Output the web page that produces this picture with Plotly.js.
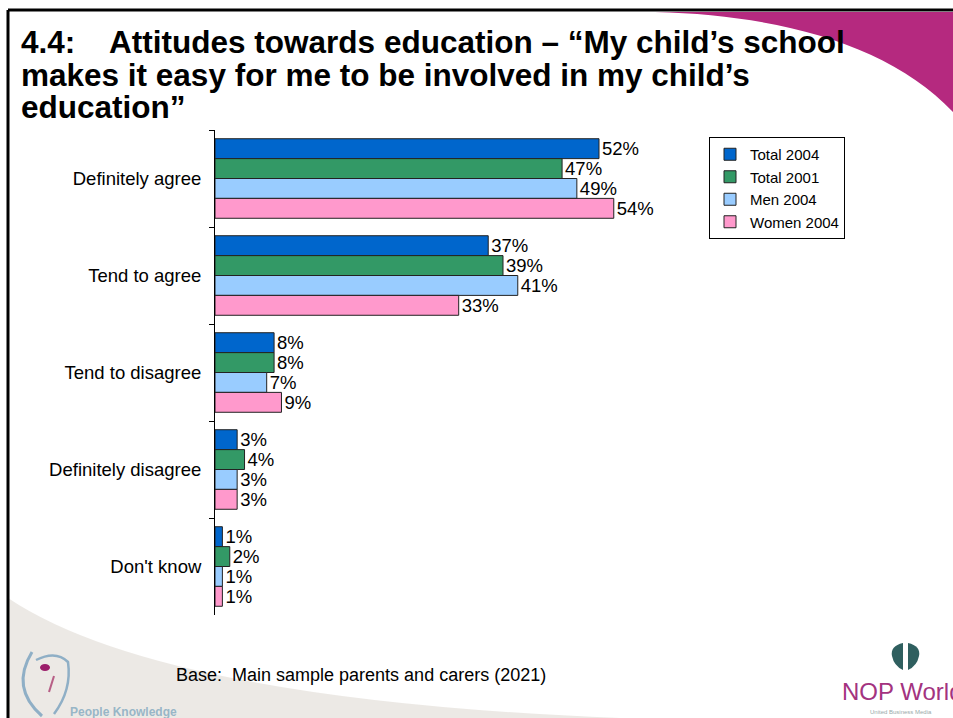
<!DOCTYPE html>
<html>
<head>
<meta charset="utf-8">
<script src="https://cdn.plot.ly/plotly-3.0.1.min.js"></script>
<style>html,body{margin:0;padding:0;background:#fff;}#chart{width:953px;height:718px;}</style>
</head>
<body>
<div id="chart"></div>
<script>
const categories = ["Definitely agree", "Tend to agree", "Tend to disagree", "Definitely disagree", "Don't know"];
const seriesNames = ["Total 2004", "Total 2001", "Men 2004", "Women 2004"];
const total2004 = [52, 37, 8, 3, 1];
const total2001 = [47, 39, 8, 4, 2];
const men2004   = [49, 41, 7, 3, 1];
const women2004 = [54, 33, 9, 3, 1];
const seriesValues = [total2004, total2001, men2004, women2004];
const colors = ["#0066CC", "#339966", "#99CCFF", "#FF99CC"];

const W = 953, H = 718;
const L = 215, T = 130, R = 258, B = 103;
const plotW = W - L - R, plotH = H - T - B;
const X = px => (px - L) / plotW;
const Y = py => (H - B - py) / plotH;
const FONT = "Arial, 'Liberation Sans', sans-serif";

const traces = seriesValues.map((vals, i) => ({
  type: "bar",
  orientation: "h",
  name: seriesNames[i],
  y: categories,
  x: vals,
  marker: {color: colors[i], line: {color: "#222", width: 1}},
  text: vals.map(v => v + "%"),
  texttemplate: "%{text}",
  textposition: "outside",
  textfont: {family: FONT, size: 18.5, color: "#000"},
  constraintext: "none",
  cliponaxis: false,
  hoverinfo: "none"
}));

function pathPx(cmds) {
  return cmds.map(c => {
    const l = c[0];
    const pts = [];
    for (let k = 1; k < c.length; k += 2) pts.push(X(c[k]).toFixed(5) + "," + Y(c[k + 1]).toFixed(5));
    return l + pts.join(" ");
  }).join(" ");
}

const shapes = [
  // bottom-left grey swoosh
  {type: "path", xref: "paper", yref: "paper", layer: "below",
   path: pathPx([["M", 8, 598], ["Q", 160, 700, 620, 718], ["L", 8, 718], ["Z"]]),
   fillcolor: "rgba(228,223,218,0.7)", line: {width: 0}},
  // magenta swoosh top-right
  {type: "path", xref: "paper", yref: "paper", layer: "below",
   path: pathPx([["M", 655, 12], ["C", 780, 15, 890, 45, 953, 112], ["L", 953, 12], ["Z"]]),
   fillcolor: "#B5297F", line: {width: 0}},
  // frame border
  {type: "line", xref: "paper", yref: "paper", x0: X(8), y0: Y(10), x1: X(953), y1: Y(10), line: {color: "#000", width: 3}},
  {type: "line", xref: "paper", yref: "paper", x0: X(8), y0: Y(10), x1: X(8), y1: Y(718), line: {color: "#000", width: 3}},
  // left logo
  {type: "path", xref: "paper", yref: "paper",
   path: pathPx([["M", 32, 652], ["Q", 10, 688, 42, 716]]),
   line: {color: "rgba(120,160,190,0.8)", width: 3}},
  {type: "path", xref: "paper", yref: "paper",
   path: pathPx([["M", 36, 660], ["Q", 56, 650, 68, 662], ["Q", 72, 690, 54, 714]]),
   line: {color: "rgba(120,160,190,0.8)", width: 2.5}},
  {type: "circle", xref: "paper", yref: "paper", x0: X(40), x1: X(50), y0: Y(664), y1: Y(671),
   fillcolor: "#9B1D6A", line: {width: 0}},
  {type: "line", xref: "paper", yref: "paper", x0: X(54), y0: Y(676), x1: X(49), y1: Y(692),
   line: {color: "rgba(170,60,110,0.8)", width: 2}},
  // NOP globe halves
  {type: "path", xref: "paper", yref: "paper",
   path: pathPx([["M", 903, 643], ["Q", 890, 646, 892, 656], ["Q", 894, 666, 903, 670], ["Z"]]),
   fillcolor: "#2F5F5F", line: {width: 0}},
  {type: "path", xref: "paper", yref: "paper",
   path: pathPx([["M", 908, 643], ["Q", 921, 646, 919, 656], ["Q", 917, 666, 908, 670], ["Z"]]),
   fillcolor: "#2F5F5F", line: {width: 0}}
];

const titleLines = [
  "4.4:\u00A0\u00A0\u00A0 Attitudes towards education \u2013 \u201CMy child\u2019s school",
  "makes it easy for me to be involved in my child\u2019s",
  "education\u201D"
];
const titleY = [42, 75, 107];

const annotations = titleLines.map((t, i) => ({
  xref: "paper", yref: "paper", x: X(19), y: Y(titleY[i]),
  xanchor: "left", yanchor: "middle", showarrow: false,
  text: "<b>" + t + "</b>",
  font: {family: FONT, size: 31.5, color: "#000"}
}));
annotations.push(
  {xref: "paper", yref: "paper", x: X(174), y: Y(675), xanchor: "left", yanchor: "middle", showarrow: false,
   text: "Base:\u00A0 Main sample parents and carers (2021)", font: {family: FONT, size: 18, color: "#000"}},
  {xref: "paper", yref: "paper", x: X(68), y: Y(712), xanchor: "left", yanchor: "middle", showarrow: false,
   text: "<b>People Knowledge</b>", font: {family: FONT, size: 12, color: "rgba(140,175,195,0.9)"}},
  {xref: "paper", yref: "paper", x: X(840), y: Y(691), xanchor: "left", yanchor: "middle", showarrow: false,
   text: "NOP World", font: {family: FONT, size: 24, color: "#A3337F"}},
  {xref: "paper", yref: "paper", x: X(868), y: Y(712), xanchor: "left", yanchor: "middle", showarrow: false,
   text: "United Business Media", font: {family: FONT, size: 6, color: "#9aa"}}
);

const layout = {
  width: W, height: H,
  margin: {l: L, r: R, t: T, b: B, pad: 0},
  paper_bgcolor: "#fff", plot_bgcolor: "rgba(0,0,0,0)",
  barmode: "group", bargap: 0.18, bargroupgap: 0,
  showlegend: true,
  legend: {
    x: X(709), y: Y(137), xanchor: "left", yanchor: "top",
    bordercolor: "#000", borderwidth: 1, bgcolor: "#fff",
    font: {family: FONT, size: 15, color: "#000"},
    traceorder: "normal", tracegroupgap: 0
  },
  xaxis: {range: [0, 65], showline: false, showticklabels: false, ticks: "", showgrid: false, zeroline: false, fixedrange: true},
  yaxis: {
    type: "category", autorange: "reversed",
    showline: true, linecolor: "#000", linewidth: 1,
    ticks: "outside", tickson: "boundaries", ticklen: 5, tickcolor: "#000", tickwidth: 1,
    ticklabelstandoff: 9,
    tickfont: {family: FONT, size: 18.5, color: "#000"},
    showgrid: false, zeroline: false, fixedrange: true
  },
  shapes: shapes,
  annotations: annotations,
  font: {family: FONT}
};

Plotly.newPlot("chart", traces, layout, {staticPlot: true, displayModeBar: false});
</script>
</body>
</html>
